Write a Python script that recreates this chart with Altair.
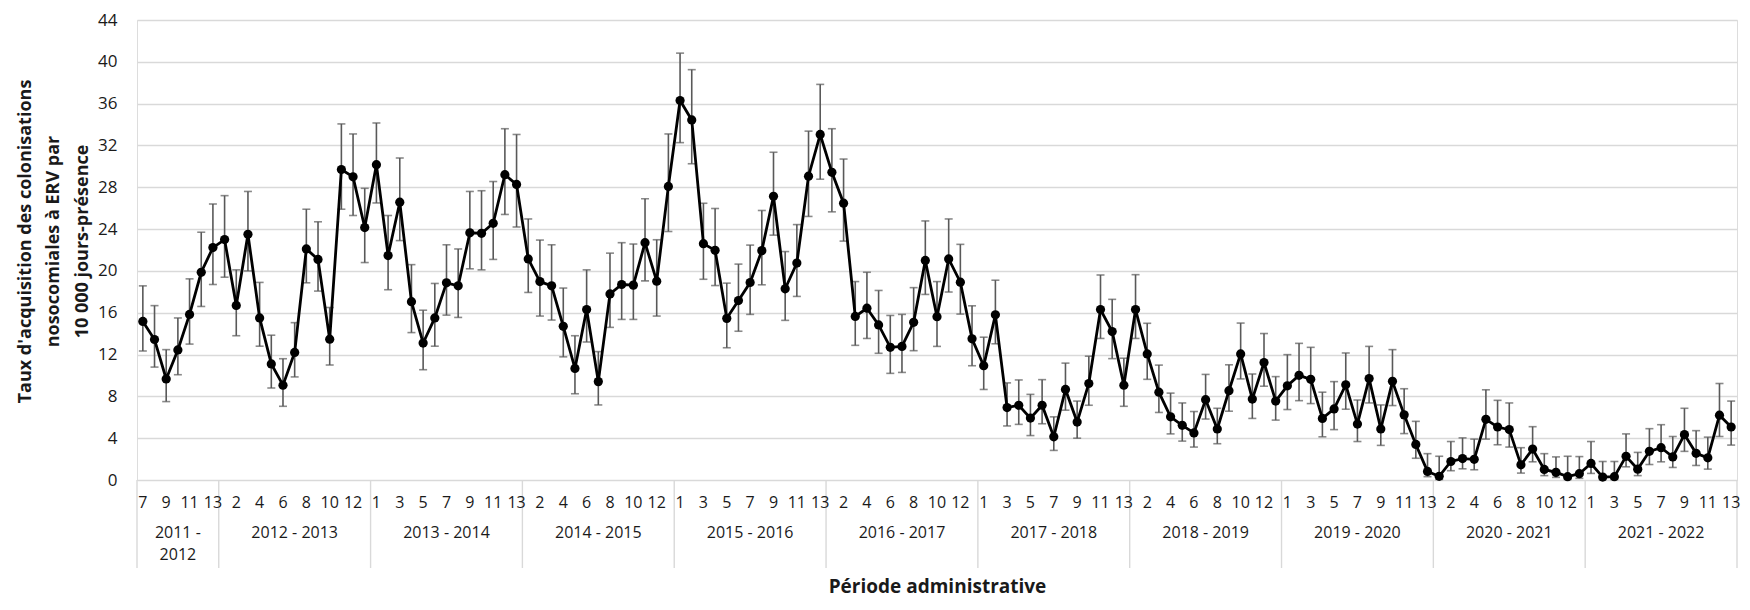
import altair as alt
import pandas as pd

# ---------------- data ----------------
annees = ["2011 - 2012", "2012 - 2013", "2013 - 2014", "2014 - 2015", "2015 - 2016",
          "2016 - 2017", "2017 - 2018", "2018 - 2019", "2019 - 2020", "2020 - 2021",
          "2021 - 2022"]
premiere_periode = [7, 1, 1, 1, 1, 1, 1, 1, 1, 1, 1]
derniere_periode = [13] * 11

taux = [15.17, 13.44, 9.67, 12.44, 15.84, 19.87, 22.23,
        23.0, 16.7, 23.5, 15.5, 11.1, 9.07, 12.2, 22.1, 21.1, 13.47, 29.7, 29.0, 24.15,
        30.16, 21.47, 26.57, 17.06, 13.1, 15.5, 18.86, 18.57, 23.64, 23.6, 24.55, 29.2, 28.27,
        21.15, 18.98, 18.57, 14.7, 10.67, 16.3, 9.41, 17.8, 18.7, 18.64, 22.7, 19.02, 28.08,
        36.3, 34.44, 22.6, 21.97, 15.46, 17.16, 18.89, 21.94, 27.14, 18.29, 20.75, 29.06, 33.05,
        29.43, 26.48, 15.65, 16.43, 14.83, 12.69, 12.78, 15.08, 21.0, 15.62, 21.15, 18.92, 13.5,
        10.93, 15.8, 6.93, 7.15, 5.92, 7.15, 4.13, 8.66, 5.54, 9.23, 16.3, 14.2, 9.07,
        16.3, 12.06, 8.4, 6.04, 5.23, 4.5, 7.68, 4.88, 8.54, 12.06, 7.74, 11.24, 7.55,
        9.01, 10.01, 9.63, 5.89, 6.8, 9.1, 5.35, 9.7, 4.88, 9.44, 6.23, 3.4, 0.82,
        0.35, 1.77, 2.05, 1.98, 5.8, 5.07, 4.82, 1.45, 2.96, 1.01, 0.73, 0.32, 0.6,
        1.58, 0.28, 0.32, 2.27, 1.04, 2.74, 3.09, 2.21, 4.34, 2.55, 2.12, 6.2, 5.07]

ic_haut = [18.57, 16.68, 12.47, 15.5, 19.24, 23.7, 26.4,
           27.2, 20.1, 27.6, 18.9, 13.85, 11.6, 15.05, 25.9, 24.7, 16.5, 34.06, 33.1, 27.9,
           34.15, 25.3, 30.8, 20.6, 16.24, 18.8, 22.5, 22.1, 27.6, 27.67, 28.55, 33.6, 33.05,
           24.97, 22.95, 22.5, 18.36, 13.8, 20.1, 12.28, 21.7, 22.7, 22.57, 26.9, 22.98, 33.1,
           40.83, 39.25, 26.47, 25.97, 18.83, 20.65, 22.47, 25.78, 31.35, 21.85, 24.43, 33.37, 37.84,
           33.6, 30.7, 18.98, 19.87, 18.13, 15.74, 15.84, 18.4, 24.78, 18.98, 24.97, 22.54, 16.66,
           13.66, 19.11, 9.29, 9.57, 8.19, 9.6, 6.04, 11.18, 7.55, 11.84, 19.61, 17.28, 11.65,
           19.64, 14.99, 10.99, 8.31, 7.37, 6.55, 10.1, 6.86, 11.02, 15.01, 10.14, 14.01, 9.89,
           11.99, 13.07, 12.69, 8.4, 9.41, 12.15, 7.65, 12.78, 7.18, 12.47, 8.73, 5.61, 2.52,
           2.27, 3.68, 4.03, 3.91, 8.63, 7.62, 7.37, 3.09, 5.1, 2.52, 2.21, 2.27, 2.24,
           3.68, 1.77, 1.77, 4.41, 2.64, 4.91, 5.29, 4.16, 6.86, 4.72, 4.1, 9.23, 7.55]

ic_bas = [12.34, 10.8, 7.5, 10.07, 13.0, 16.6, 18.7,
          19.4, 13.8, 20.0, 12.8, 8.8, 7.05, 9.86, 18.86, 18.07, 11.0, 25.9, 25.3, 20.8,
          26.5, 18.2, 22.9, 14.1, 10.55, 12.8, 15.77, 15.55, 20.2, 20.1, 21.1, 25.4, 24.2,
          17.94, 15.68, 15.3, 11.78, 8.25, 13.2, 7.18, 14.6, 15.36, 15.36, 19.05, 15.68, 23.77,
          32.27, 30.25, 19.2, 18.6, 12.65, 14.23, 15.84, 18.67, 23.42, 15.27, 17.56, 25.21, 28.77,
          25.65, 22.85, 12.88, 13.54, 12.12, 10.2, 10.29, 12.37, 17.75, 12.78, 17.98, 15.87, 10.93,
          8.66, 13.03, 5.17, 5.32, 4.25, 5.38, 2.83, 6.68, 4.0, 7.15, 13.54, 11.61, 7.05,
          13.54, 9.63, 6.46, 4.41, 3.72, 3.15, 5.83, 3.47, 6.58, 9.67, 5.89, 8.97, 5.73,
          6.74, 7.59, 7.31, 4.13, 4.82, 6.77, 3.68, 7.37, 3.31, 7.12, 4.44, 2.08, 0.32,
          0.05, 0.89, 1.07, 0.98, 3.91, 3.37, 3.15, 0.66, 1.74, 0.42, 0.25, 0.05, 0.16,
          0.63, 0.04, 0.05, 1.26, 0.42, 1.48, 1.74, 1.2, 2.74, 1.39, 1.04, 4.16, 3.34]

y_ticks = list(range(0, 45, 4))
titre_y = ["Taux d'acquisition des colonisations", "nosocomiales à ERV par",
           "10 000 jours-présence"]
titre_x = "Période administrative"

# ---------------- tables ----------------
rows = []
bornes = [0]
k = 0
for a, p0, p1 in zip(annees, premiere_periode, derniere_periode):
    for p in range(p0, p1 + 1):
        rows.append({"idx": k, "pos": k + 0.5, "periode": str(p), "annee": a})
        k += 1
    bornes.append(k)
df = pd.DataFrame(rows)
df["taux"] = taux
df["bas"] = ic_bas
df["haut"] = ic_haut
df_lab = df[df["idx"] % 2 == 0]

df_annee = pd.DataFrame({
    "mid": [(bornes[i] + bornes[i + 1]) / 2 for i in range(len(annees))],
    "label": [a.replace(" - ", " -\n") if (bornes[i + 1] - bornes[i]) < 10 else a
              for i, a in enumerate(annees)],
})
df_bornes = pd.DataFrame({"b": bornes})

W, H = 1600, 460
FONT = "Open Sans"
GRID = "#d9d9d9"
TXT = "#1a1a1a"

xscale = alt.Scale(domain=[0, k], nice=False, zero=False)
x_enc = alt.X("pos:Q", scale=xscale,
              axis=alt.Axis(title=titre_x, labels=False, ticks=False, domain=False,
                            grid=False, titleFont=FONT, titleFontSize=19,
                            titleFontWeight="bold", titleColor=TXT,
                            titleY=106, titleBaseline="middle"))
yscale = alt.Scale(domain=[0, 44], nice=False)
y_axis = alt.Axis(values=y_ticks, grid=True, gridColor=GRID, gridWidth=1.4,
                  domain=False, ticks=False, labelPadding=20, labelFont=FONT,
                  labelFontSize=17, labelColor=TXT, title=titre_y, titleFont=FONT,
                  titleFontSize=18, titleFontWeight="bold", titleColor=TXT,
                  titleLineHeight=28.5, titleAngle=270, titleAlign="center",
                  titleBaseline="middle", titleX=-112, titleY=221)

base = alt.Chart(df)

err = base.mark_rule(color="#595959", strokeWidth=1.6).encode(
    x=x_enc, y=alt.Y("bas:Q", scale=yscale, axis=y_axis), y2="haut:Q")
cap_h = base.mark_tick(orient="horizontal", size=8, thickness=1.6, color="#595959").encode(
    x=alt.X("pos:Q", scale=xscale), y=alt.Y("haut:Q", scale=yscale))
cap_b = base.mark_tick(orient="horizontal", size=8, thickness=1.6, color="#595959").encode(
    x=alt.X("pos:Q", scale=xscale), y=alt.Y("bas:Q", scale=yscale))
line = base.mark_line(color="black", strokeWidth=2.8).encode(
    x=alt.X("pos:Q", scale=xscale), y=alt.Y("taux:Q", scale=yscale))
pts = base.mark_circle(color="black", size=85, opacity=1).encode(
    x=alt.X("pos:Q", scale=xscale), y=alt.Y("taux:Q", scale=yscale))

per_lab = alt.Chart(df_lab).mark_text(font=FONT, fontSize=16, color=TXT,
                                      baseline="middle").encode(
    x=alt.X("pos:Q", scale=xscale), y=alt.value(H + 23), text="periode:N")
an_lab = alt.Chart(df_annee).mark_text(font=FONT, fontSize=16, color=TXT,
                                       baseline="top", lineBreak="\n",
                                       lineHeight=22).encode(
    x=alt.X("mid:Q", scale=xscale), y=alt.value(H + 45), text="label:N")
seps = alt.Chart(df_bornes).mark_rule(color=GRID, strokeWidth=1.4).encode(
    x=alt.X("b:Q", scale=xscale), y=alt.value(H), y2=alt.value(H + 88))

chart = alt.layer(err, cap_h, cap_b, line, pts, seps, per_lab, an_lab).properties(
    width=W, height=H,
    autosize=alt.AutoSizeParams(type="none"),
    padding={"left": 129, "top": 12, "right": 4, "bottom": 122},
).configure_view(stroke=None).configure(background="white")

chart.save("out.html", embed_options={"renderer": "svg", "actions": False})
